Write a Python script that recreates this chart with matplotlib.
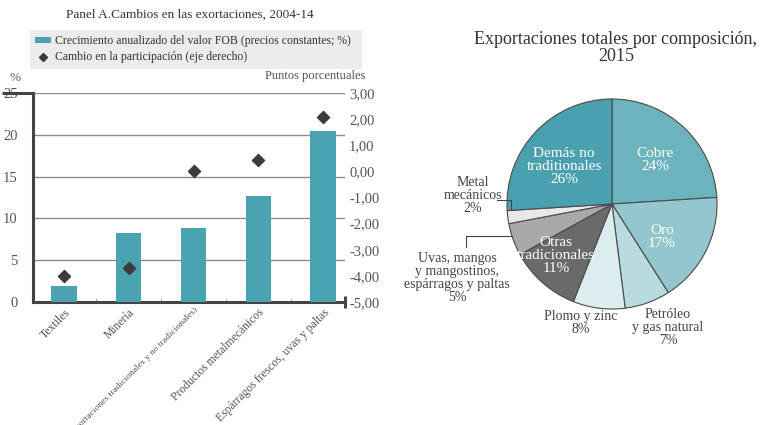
import matplotlib
matplotlib.use("Agg")
import matplotlib.pyplot as plt
from matplotlib.patches import Patch
from matplotlib.lines import Line2D

plt.rcParams['font.family'] = ['Liberation Serif', 'DejaVu Serif']

# --- data -------------------------------------------------------------
categories = ["Textiles", "Minería",
              "Total (exportaciones tradicionales y no tradicionales)",
              "Productos metalmecánicos",
              "Espárragos frescos, uvas y paltas"]
growth = [1.9, 8.2, 8.9, 12.7, 20.4]          # % anual, eje izq.
share_change = [-4.0, -3.7, 0.0, 0.42, 2.08]  # puntos porcentuales, eje der.

pie_labels = ["Cobre", "Oro", "Petróleo\ny gas natural", "Plomo y zinc",
              "Otras\ntradicionales", "Uvas, mangos\ny mangostinos,\nespárragos y paltas",
              "Metal\nmecánicos", "Demás no\ntraditionales"]
pie_values = [24, 17, 7, 8, 11, 5, 2, 26]
pie_colors = ["#6cb3be", "#93c6cd", "#b8dbdf", "#dbedef",
              "#6a6a6a", "#a9a9a9", "#e8e8e8", "#4aa0ae"]

BAR = "#4aa3b0"
DARK = "#3a3a3a"
GREY = "#555555"

fig = plt.figure(figsize=(7.62, 4.25), dpi=100)
W, H = 762, 425

def fx(px):
    return px / W

def fy(py):
    return 1 - py / H

# --- panel A: bars + diamonds ----------------------------------------
ax = fig.add_axes([fx(33), fy(302), fx(345 - 33), (302 - 93) / H])
x = list(range(len(categories)))
ax.bar(x, growth, width=0.39, color=BAR, zorder=3)
ax.set_xlim(-0.48, 4.34)
ax.set_ylim(0, 25)
ax.set_yticks(range(0, 26, 5))
ax.yaxis.grid(True, color="#8c8c8c", linewidth=1.0, zorder=0)
ax.set_axisbelow(True)
for s in ("top", "right"):
    ax.spines[s].set_visible(False)
ax.spines["left"].set_color("#444444")
ax.spines["left"].set_linewidth(2.2)
ax.spines["bottom"].set_color("#444444")
ax.spines["bottom"].set_linewidth(2.2)
ax.tick_params(axis="y", length=0, pad=11, labelsize=10.5, labelcolor=GREY)
ax.set_xticks(x)
ax.set_xticks([0.5, 1.5, 2.5, 3.5], minor=True)
ax.tick_params(axis="x", which="major", length=0, pad=3)
ax.tick_params(axis="x", which="minor", length=3, direction="in", color="#999999")
ax.set_xticklabels(categories, rotation=45, ha="right", rotation_mode="anchor",
                   color=GREY, fontsize=8.4)
ax.get_xticklabels()[2].set_fontsize(6.8)

# end caps of the axis lines
ax.plot([-0.10, 0.0], [25, 25], transform=ax.get_yaxis_transform(),
        color="#444444", lw=2.2, clip_on=False, solid_capstyle="butt")
ax.plot([4.34, 4.34], [-0.7, 0.7], color="#444444", lw=2.2, clip_on=False,
        solid_capstyle="butt")

ax2 = ax.twinx()
ax2.scatter(x, share_change, marker="D", s=38, color=DARK, zorder=4)
ax2.set_ylim(-5, 3)
ax2.set_yticks(range(-5, 4))
ax2.set_yticklabels([f"{v:.2f}".replace(".", ",") for v in range(-5, 4)])
ax2.tick_params(axis="y", length=0, pad=3, labelsize=10.5, labelcolor=GREY)
for s in ax2.spines.values():
    s.set_visible(False)

fig.text(fx(190), fy(15), "Panel A.Cambios en las exortaciones, 2004-14",
         ha="center", va="center", fontsize=9.5, color="#333333")
fig.text(fx(9), fy(78), "%", ha="left", va="center", fontsize=9.5, color=GREY)
fig.text(fx(365), fy(76), "Puntos porcentuales", ha="right", va="center",
         fontsize=9, color=GREY)

handles = [Patch(facecolor=BAR, edgecolor="none"),
           Line2D([], [], marker="D", color=DARK, linestyle="none", markersize=4.5)]
leg = fig.legend(handles,
                 ["Crecimiento anualizado del valor FOB (precios constantes; %)",
                  "Cambio en la participación (eje derecho)"],
                 loc="upper left", bbox_to_anchor=(fx(30), fy(68), fx(332), 38 / H),
                 mode="expand", fontsize=8.5, frameon=True, fancybox=False,
                 borderpad=0.45, labelspacing=0.35, handlelength=1.3,
                 handleheight=0.5, handletextpad=0.4, borderaxespad=0)
leg.get_frame().set_facecolor("#e8e8e8")
leg.get_frame().set_edgecolor("none")
for t in leg.get_texts():
    t.set_color("#333333")

# --- pie ---------------------------------------------------------------
cx, cy, r = 612, 204, 105
half = 150
pa = fig.add_axes([fx(cx - half), fy(cy + half), 2 * half / W, 2 * half / H])
pa.pie(pie_values, colors=pie_colors, startangle=90, counterclock=False,
       radius=1, wedgeprops=dict(edgecolor="#4a4a4a", linewidth=0.8))
lim = half / r
pa.set_xlim(-lim, lim)
pa.set_ylim(-lim, lim)
pa.set_aspect("equal")
pa.axis("off")

def pxy(px, py):
    return ((px - cx) / r, (cy - py) / r)

inside = {0: (655, 160), 1: (662, 237), 4: (556, 256), 7: (564, 167)}
outside = {2: (668, 328), 3: (581, 323), 5: (457, 278), 6: (473, 196)}
for i, (px, py) in inside.items():
    pa.text(*pxy(px, py), f"{pie_labels[i]}\n{pie_values[i]}%", ha="center",
            va="center", color="white", fontsize=11, linespacing=1.0)
for i, (px, py) in outside.items():
    pa.text(*pxy(px, py), f"{pie_labels[i]}\n{pie_values[i]}%", ha="center",
            va="center", color="#444444", fontsize=10, linespacing=1.0)

# leader lines
for pts in ([(497, 200), (511, 200), (511, 210)],
            [(466, 247), (466, 236), (512, 236)]):
    xs, ys = zip(*[pxy(*p) for p in pts])
    pa.plot(xs, ys, color="#444444", lw=0.8, clip_on=False)

fig.text(fx(616), fy(48), "Exportaciones totales por composición,\n2015",
         ha="center", va="center", fontsize=13, color="#333333", linespacing=1.05)

fig.savefig("out.png", dpi=100)
